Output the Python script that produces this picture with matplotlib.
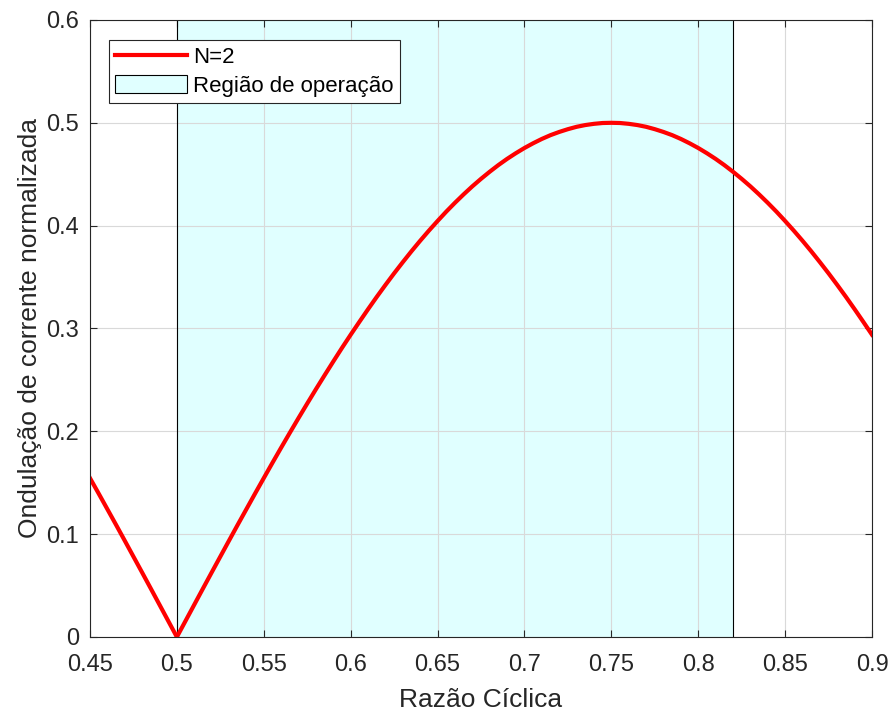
import numpy as np
import matplotlib.pyplot as plt
from matplotlib.patches import Patch
from matplotlib.lines import Line2D

plt.rcParams['font.family'] = ['Liberation Sans', 'DejaVu Sans']

# ripple, duty step 0.005
duty = np.round(np.arange(0.45, 0.9001, 0.005), 3)
ripple = [0.1545, 0.1395, 0.1243, 0.1091, 0.0937, 0.0782, 0.0627, 0.0471, 0.0314, 0.0157, 0.0,
          0.0157, 0.0314, 0.0471, 0.0627, 0.0782, 0.0937, 0.1091, 0.1243, 0.1395, 0.1545,
          0.1694, 0.1841, 0.1986, 0.2129, 0.2270, 0.2409, 0.2545, 0.2679, 0.2811, 0.2939,
          0.3064, 0.3187, 0.3307, 0.3423, 0.3536, 0.3645, 0.3751, 0.3853, 0.3951, 0.4045,
          0.4136, 0.4222, 0.4304, 0.4382, 0.4455, 0.4524, 0.4589, 0.4649, 0.4704, 0.4755,
          0.4801, 0.4843, 0.4880, 0.4911, 0.4938, 0.4961, 0.4978, 0.4990, 0.4998, 0.5000,
          0.4998, 0.4990, 0.4978, 0.4961, 0.4938, 0.4911, 0.4880, 0.4843, 0.4801, 0.4755,
          0.4704, 0.4649, 0.4589, 0.4524, 0.4455, 0.4382, 0.4304, 0.4222, 0.4136, 0.4045,
          0.3951, 0.3853, 0.3751, 0.3645, 0.3536, 0.3423, 0.3307, 0.3187, 0.3064, 0.2939]
region = [0.5, 0.82]

dark = '#262626'
fill = '#e0ffff'
fig = plt.figure(figsize=(8.9, 7.13), dpi=100)
ax = fig.add_axes([0.1011, 0.1066, 0.8787, 0.8654])

ax.axvspan(region[0], region[1], facecolor=fill, edgecolor='none', zorder=0)
for r in region:
    ax.axvline(r, color='black', linewidth=0.8, zorder=2.7)
ax.plot(duty, ripple, color='#ff0000', linewidth=3, zorder=3)

ax.set_xlim(0.45, 0.9)
ax.set_ylim(0, 0.6)
ax.set_xticks(np.arange(0.45, 0.901, 0.05))
ax.set_xticklabels(['0.45', '0.5', '0.55', '0.6', '0.65', '0.7', '0.75', '0.8', '0.85', '0.9'])
ax.set_yticks(np.arange(0, 0.601, 0.1))
ax.set_yticklabels(['0', '0.1', '0.2', '0.3', '0.4', '0.5', '0.6'])
ax.grid(True, color='#d9d9d9', linewidth=0.8)
ax.set_axisbelow(False)
ax.tick_params(direction='in', labelsize=17, colors=dark, length=5, width=0.8,
               top=True, right=True)
ax.tick_params(axis='x', pad=12)
ax.tick_params(axis='y', pad=8)
for s in ax.spines.values():
    s.set_color(dark)
    s.set_linewidth(0.8)
    s.set_zorder(4)

ax.set_xlabel('Razão Cíclica', fontsize=19, color=dark, labelpad=9)
ax.set_ylabel('Ondulação de corrente normalizada', fontsize=19, color=dark, labelpad=3)

handles = [Line2D([0], [0], color='#ff0000', linewidth=3),
           Patch(facecolor=fill, edgecolor='black', linewidth=0.8)]
leg = ax.legend(handles, ['N=2', 'Região de operação'], loc='upper left',
                bbox_to_anchor=(0.024, 0.968), fontsize=16, fancybox=False,
                framealpha=1, edgecolor=dark, handlelength=3.2, handleheight=0.9,
                borderpad=0.3, labelspacing=0.3, handletextpad=0.3, borderaxespad=0)
leg.get_frame().set_linewidth(0.8)
leg.set_zorder(5)

fig.savefig('out.png', dpi=100)
